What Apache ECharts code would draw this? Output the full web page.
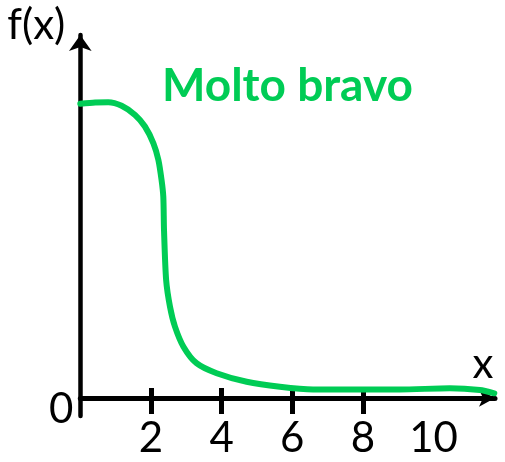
<!DOCTYPE html>
<html>
<head>
<meta charset="utf-8">
<script src="https://cdn.jsdelivr.net/npm/echarts@6/dist/echarts.min.js"></script>
<style>
html,body{margin:0;padding:0;background:#fff;}
#c{width:505px;height:462px;}
</style>
</head>
<body>
<div id="c"></div>
<script>
// Data
var curveX = [0, 0.42, 0.79, 1.17, 1.55, 1.83, 2.07, 2.21, 2.30, 2.35, 2.37, 2.43, 2.54, 2.68, 2.92, 3.29, 3.86, 4.71, 5.65, 6.59, 7.63, 9.05, 10.46, 11.31, 11.72];
var curveY = [0.997, 1.001, 1.002, 0.990, 0.959, 0.920, 0.863, 0.807, 0.739, 0.682, 0.569, 0.400, 0.309, 0.242, 0.174, 0.118, 0.084, 0.055, 0.038, 0.029, 0.029, 0.029, 0.033, 0.027, 0.016];
var xTickValues = [2, 4, 6, 8];
var xTickLabels = [2, 4, 6, 8, 10];
var yTickLabels = [0];
var titleText = 'Molto bravo';
var xName = 'x';
var yName = 'f(x)';

var green = '#00cc55';
var font = 'Lato';
var points = curveX.map(function (x, i) { return [x, curveY[i]]; });

var chart = echarts.init(document.getElementById('c'));
chart.setOption({
  animation: false,
  backgroundColor: '#fff',
  title: {
    text: titleText,
    left: 162, top: 63, padding: 0,
    textStyle: { color: green, fontFamily: font, fontWeight: 'bold', fontSize: 46 }
  },
  grid: { left: 80.3, right: 10, top: 35, bottom: 46, containLabel: false, outerBoundsMode: 'none' },
  xAxis: [{
    type: 'value', min: 0, max: 11.74,
    position: 'bottom',
    name: xName, nameLocation: 'end', nameGap: -12,
    nameTextStyle: { color: '#000', fontFamily: font, fontSize: 42, align: 'center', verticalAlign: 'bottom', padding: [0, 0, 13, 0] },
    axisLine: { show: true, onZero: true, onZeroAxisIndex: 0, symbol: ['none', 'arrow'], symbolSize: [13, 16], lineStyle: { color: '#000', width: 5 } },
    axisTick: { show: true, inside: false, length: 16, customValues: xTickValues, lineStyle: { color: '#000', width: 5 } },
    axisLabel: { show: true, customValues: xTickLabels, margin: 1, color: '#000', fontFamily: font, fontSize: 42 },
    splitLine: { show: false }
  }, {
    type: 'value', min: 0, max: 11.74,
    position: 'bottom',
    axisLine: { show: false, onZero: true, onZeroAxisIndex: 0 },
    axisTick: { show: true, inside: true, length: 10, customValues: xTickValues, lineStyle: { color: '#000', width: 5 } },
    axisLabel: { show: false },
    splitLine: { show: false }
  }],
  yAxis: {
    type: 'value', min: -0.0609, max: 1.23,
    name: yName, nameLocation: 'end', nameGap: 10,
    nameTextStyle: { color: '#000', fontFamily: font, fontSize: 42, align: 'right', verticalAlign: 'middle', padding: [0, 15, 0, 0] },
    axisLine: { show: true, onZero: false, symbol: ['none', 'arrow'], symbolSize: [17, 16], lineStyle: { color: '#000', width: 4.5 } },
    axisTick: { show: false },
    axisLabel: { show: true, customValues: yTickLabels, margin: 7, color: '#000', fontFamily: font, fontSize: 42, verticalAlign: 'top', lineHeight: 22 },
    splitLine: { show: false }
  },
  series: [{
    type: 'line',
    xAxisIndex: 0,
    data: points,
    smooth: 0.25,
    symbol: 'none',
    clip: false,
    lineStyle: { color: green, width: 6, cap: 'round', join: 'round' }
  }]
});
</script>
</body>
</html>
